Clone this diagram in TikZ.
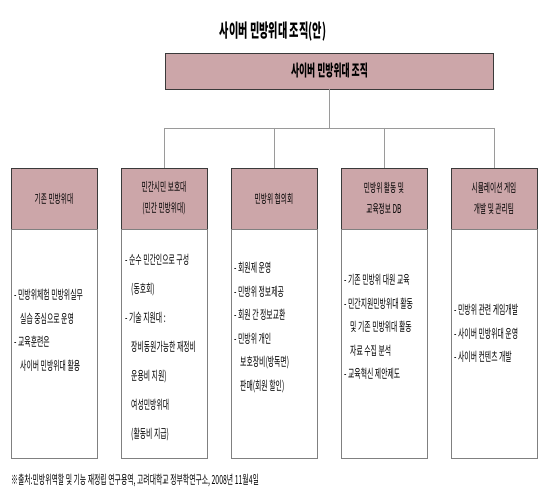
\documentclass[tikz,border=0pt]{standalone}
\usepackage{fontspec}
\setmainfont{Noto Sans CJK KR}[FakeStretch=0.55]
\usepackage{tikz}
\usetikzlibrary{positioning}
\definecolor{orgpink}{HTML}{CCA6A9}
\definecolor{orgline}{HTML}{9A9A9A}
\definecolor{orgedge}{HTML}{3A3A3A}

\begin{document}
\begin{tikzpicture}[x=1pt, y=-1pt,
      headbox/.style={draw=orgedge, fill=orgpink, minimum width=86pt,
                      minimum height=61pt, align=center, outer sep=0pt,
                      font=\fontsize{12.2}{21}\selectfont, line width=0.8pt},
      bodybox/.style={draw=gray, minimum width=86pt, minimum height=229pt,
                      outer sep=0pt, line width=0.8pt},
      bodytext/.style={inner sep=0pt, align=left, anchor=north west,
                       font=\fontsize{12.5}{23.5}\selectfont},
      link/.style={draw=orgline, line width=0.9pt}
    ]
    \useasboundingbox (0,0) rectangle (550,500);
    % title and top box
    \node[font=\bfseries\fontsize{18.5}{20}\selectfont] (title) at (273,32)
      {사이버 민방위대 조직(안)};
    \node[draw=orgedge, fill=orgpink, minimum width=328pt, minimum height=36pt,
          line width=0.8pt, font=\bfseries\fontsize{16}{18}\selectfont]
      (top) at (329.5,71) {사이버 민방위대 조직};
    % column headers
    \node[headbox] (head1) at (54,198.5) {기존 민방위대};
    \node[headbox, right=24pt of head1] (head2) {민간시민 보호대\\(민간 민방위대)};
    \node[headbox, right=24pt of head2] (head3) {민방위 협의회};
    \node[headbox, right=24pt of head3] (head4) {민방위 활동 및\\교육정보 DB};
    \node[headbox, right=24pt of head4] (head5) {시뮬레이션 게임\\개발 및 관리팀};
    \foreach \i in {1,...,5}
      \node[bodybox, below=0pt of head\i] (body\i) {};
    % connectors
    \coordinate (bar) at (0,128);
    \draw[link] (top.south) -- (top.south |- bar);
    \draw[link] (head2.north |- bar) -- (head5.north |- bar);
    \foreach \i in {2,...,5}
      \draw[link] (head\i.north |- bar) -- (head\i.north);
    % column texts
    \node[bodytext, below right=60pt and 3pt of body1.north west] (text1)
      {- 민방위체험 민방위실무\\\hspace*{6pt}실습 중심으로 운영\\- 교육훈련은\\\hspace*{6pt}사이버 민방위대 활용};
    \node[bodytext, below right=25pt and 4pt of body2.north west,
          font=\fontsize{12.5}{29}\selectfont] (text2)
      {- 순수 민간인으로 구성\\\hspace*{6pt}(동호회)\\- 기술 지원대 :\\\hspace*{6pt}장비동원가능한 재정비\\\hspace*{6pt}운용비 지원)\\\hspace*{6pt}여성민방위대\\\hspace*{6pt}(활동비 지급)};
    \node[bodytext, below right=33pt and 3pt of body3.north west] (text3)
      {- 회원제 운영\\- 민방위 정보제공\\- 회원 간 정보교환\\- 민방위 개인\\\hspace*{6pt}보호장비(방독면)\\\hspace*{6pt}판매(회원 할인)};
    \node[bodytext, below right=45pt and 3pt of body4.north west] (text4)
      {- 기존 민방위 대원 교육\\- 민간지원민방위대 활동\\\hspace*{6pt}및 기존 민방위대 활동\\\hspace*{6pt}자료 수집 분석\\- 교육혁신 제안제도};
    \node[bodytext, below right=75pt and 3pt of body5.north west] (text5)
      {- 민방위 관련 게임개발\\- 사이버 민방위대 운영\\- 사이버 컨텐츠 개발};
    % source
    \node[anchor=west, inner sep=0pt, font=\fontsize{12.5}{14}\selectfont] (source)
      at (11,480) {※출처:민방위역할 및 기능 재정립 연구용역, 고려대학교 정부학연구소, 2008년 11월4일};
  \end{tikzpicture}
\end{document}
